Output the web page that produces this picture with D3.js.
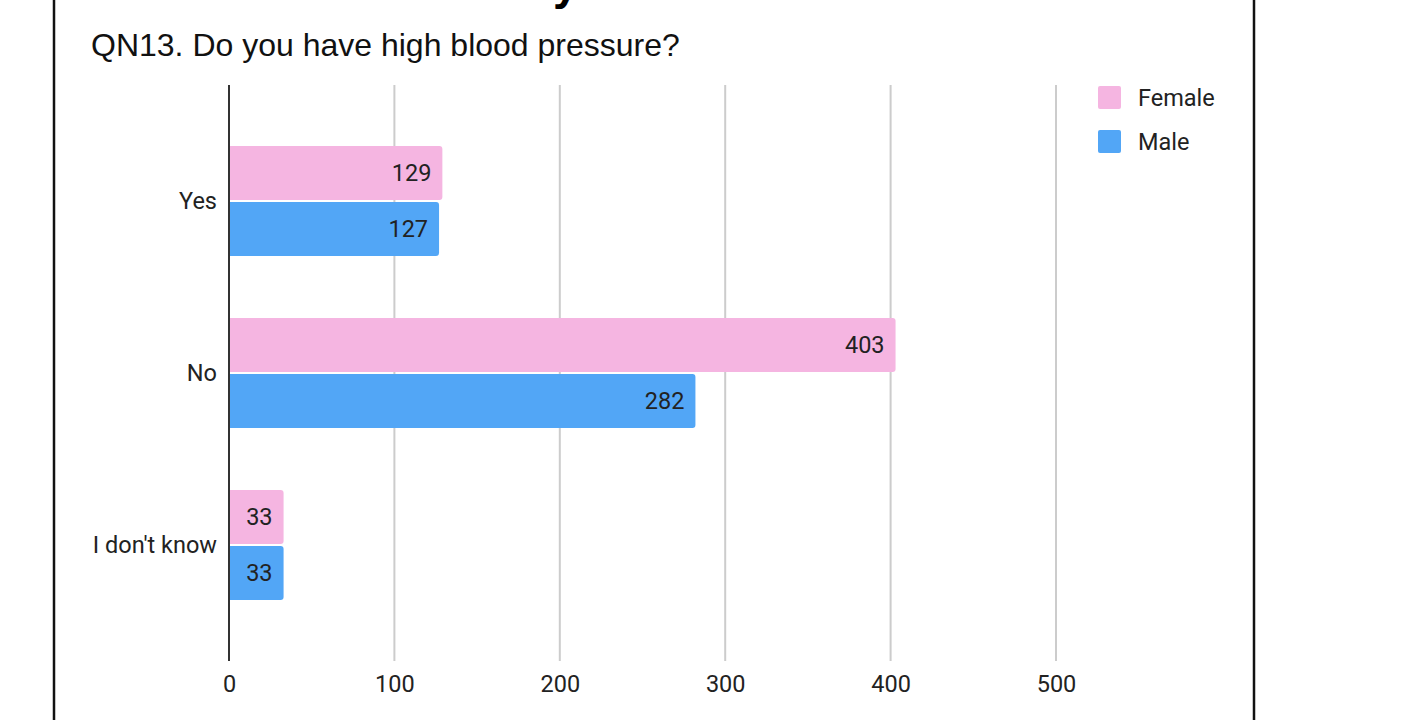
<!DOCTYPE html>
<html>
<head>
<meta charset="utf-8">
<script src="https://cdn.jsdelivr.net/npm/d3@7/dist/d3.min.js"></script>
<style>
  html, body { margin: 0; padding: 0; background: #fff; }
  svg { display: block; }
</style>
</head>
<body>
<svg id="chart" width="1405" height="720"></svg>
<script>
// Survey responses by gender
const categories = ["Yes", "No", "I don't know"];
const seriesNames = ["Female", "Male"];
const femaleValues = [129, 403, 33];
const maleValues = [127, 282, 33];
const tickValues = [0, 100, 200, 300, 400, 500];
const colors = ["#f5b5e1", "#52a6f6"];
const titleText = "QN13. Do you have high blood pressure?";

const seriesValues = [femaleValues, maleValues];

const svg = d3.select("#chart");
const W = 1405, H = 720;

// page frame
svg.append("rect").attr("width", W).attr("height", H).attr("fill", "#fff");
svg.append("line").attr("x1", 54).attr("x2", 54).attr("y1", 0).attr("y2", H)
  .attr("stroke", "#111").attr("stroke-width", 2.5);
svg.append("line").attr("x1", 1254).attr("x2", 1254).attr("y1", 0).attr("y2", H)
  .attr("stroke", "#111").attr("stroke-width", 2.5);

// tail of the page heading above
svg.append("text").attr("x", 553).attr("y", -1)
  .attr("font-family", "Liberation Sans, Arial, sans-serif")
  .attr("font-weight", "bold").attr("font-size", 46).attr("fill", "#000")
  .text("y");

// chart title
svg.append("text").attr("x", 91).attr("y", 56)
  .attr("font-family", "Liberation Sans, Arial, sans-serif")
  .attr("font-size", 32).attr("fill", "#111")
  .text(titleText);

const x = d3.scaleLinear().domain([0, 500]).range([229, 1056]);
const y = d3.scaleBand().domain(categories).range([115, 631])
  .paddingInner(0.36).paddingOuter(0.18);
const ySub = d3.scaleBand().domain(seriesNames).range([0, y.bandwidth()])
  .paddingInner(0.036);

const plotTop = 85, plotBottom = 661;
const font = "Roboto, sans-serif";
const fs = 23.5;

// vertical gridlines
svg.append("g").selectAll("line").data(tickValues.filter(d => d > 0)).join("line")
  .attr("x1", d => x(d)).attr("x2", d => x(d))
  .attr("y1", plotTop).attr("y2", plotBottom)
  .attr("stroke", "#cccccc").attr("stroke-width", 2);

// bars, with rounded ends drawn as paths (square at the axis)
function barPath(x0, y0, w, h, r) {
  r = Math.min(r, w, h / 2);
  return `M${x0},${y0}H${x0 + w - r}Q${x0 + w},${y0} ${x0 + w},${y0 + r}` +
    `V${y0 + h - r}Q${x0 + w},${y0 + h} ${x0 + w - r},${y0 + h}H${x0}Z`;
}

const groups = svg.append("g").selectAll("g").data(categories).join("g")
  .attr("transform", d => `translate(0,${y(d)})`);

groups.each(function (cat, ci) {
  const g = d3.select(this);
  seriesNames.forEach((s, si) => {
    const v = seriesValues[si][ci];
    g.append("path")
      .attr("d", barPath(x(0), ySub(s), x(v) - x(0), ySub.bandwidth(), 3))
      .attr("fill", colors[si]);
    g.append("text")
      .attr("x", x(v) - 11)
      .attr("y", ySub(s) + ySub.bandwidth() / 2)
      .attr("dy", "0.36em")
      .attr("text-anchor", "end")
      .attr("font-family", font).attr("font-size", fs)
      .attr("fill", "#222")
      .text(v);
  });
});

// zero axis line
svg.append("line").attr("x1", x(0)).attr("x2", x(0))
  .attr("y1", plotTop).attr("y2", plotBottom)
  .attr("stroke", "#333").attr("stroke-width", 2);

// x axis labels
const xAxis = d3.axisBottom(x).tickValues(tickValues).tickSize(0).tickPadding(0);
const xg = svg.append("g").attr("transform", `translate(0,${plotBottom})`).call(xAxis);
xg.select(".domain").remove();
xg.selectAll("text")
  .attr("y", 23).attr("dy", "0.36em")
  .attr("font-family", font).attr("font-size", fs).attr("fill", "#222");

// category labels
const yAxis = d3.axisLeft(y).tickSize(0).tickPadding(0);
const yg = svg.append("g").attr("transform", `translate(${x(0) - 12},0)`).call(yAxis);
yg.select(".domain").remove();
yg.selectAll("text")
  .attr("dy", "0.36em")
  .attr("font-family", font).attr("font-size", fs).attr("fill", "#222");

// legend
const legend = svg.append("g").selectAll("g").data(seriesNames).join("g")
  .attr("transform", (d, i) => `translate(1098,${86 + i * 44})`);
legend.append("rect").attr("width", 23).attr("height", 23).attr("rx", 2)
  .attr("fill", (d, i) => colors[i]);
legend.append("text").attr("x", 40).attr("y", 11.5).attr("dy", "0.36em")
  .attr("font-family", font).attr("font-size", fs).attr("fill", "#222")
  .text(d => d);
</script>
</body>
</html>
